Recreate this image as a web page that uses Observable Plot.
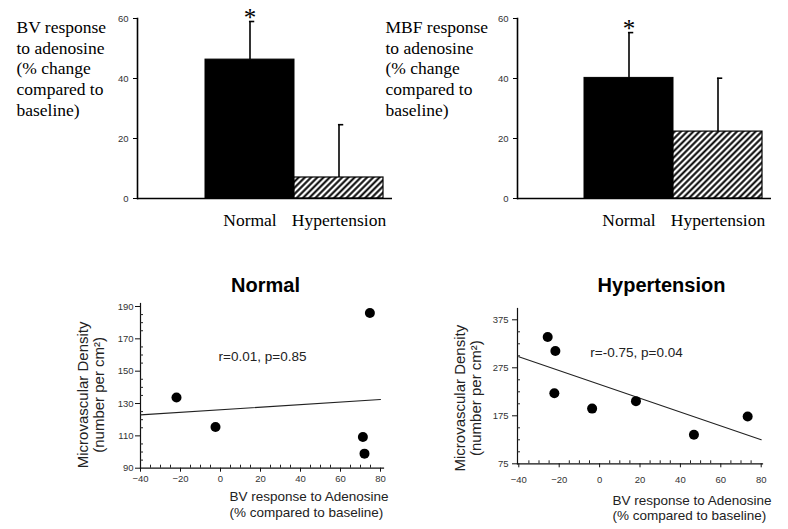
<!DOCTYPE html>
<html><head><meta charset="utf-8">
<script src="https://cdn.jsdelivr.net/npm/d3@7"></script>
<script src="https://cdn.jsdelivr.net/npm/@observablehq/plot@0.6"></script>
<style>
body{margin:0;background:#fff;}
#wrap{position:relative;width:788px;height:529px;overflow:hidden;background:#fff;}
.panel{position:absolute;}
.panel svg{overflow:visible;}
</style></head><body><div id="wrap"></div>
<script>
// ---------- data ----------
const groups = ["Normal", "Hypertension"];
const significant = [true, false];

const bvMean = [46.3, 7.0];
const bvErr = [12.7, 17.6];
const bvLabel = "BV response\nto adenosine\n(% change\ncompared to\nbaseline)";

const mbfMean = [40.2, 22.3];
const mbfErr = [15.1, 17.8];
const mbfLabel = "MBF response\nto adenosine\n(% change\ncompared to\nbaseline)";

const barYTicks = [0, 20, 40, 60];

const scatterXTicks = [-40, -20, 0, 20, 40, 60, 80];
const scatterXLabel = "BV response to Adenosine\n(% compared to baseline)";
const scatterYLabel = "Microvascular Density\n(number per cm²)";

const normalTitle = "Normal";
const normalX = [-22, -2.5, 74.7, 71.2, 72];
const normalY = [133.7, 115.5, 186, 109.3, 99];
const normalFitX = [-40, 80];
const normalFitY = [123, 132.5];
const normalStat = "r=0.01, p=0.85";
const normalYTicks = [90, 110, 130, 150, 170, 190];

const htnTitle = "Hypertension";
const htnX = [-25.7, -21.9, -22.4, -3.7, 18, 46.7, 73.3];
const htnY = [339, 310, 222, 190, 205.5, 135.4, 173.6];
const htnFitX = [-40, 80];
const htnFitY = [298, 125];
const htnStat = "r=-0.75, p=0.04";
const htnYTicks = [75, 175, 275, 375];

// ---------- helpers ----------
const SVGNS = "http://www.w3.org/2000/svg";
function hatchDefs(id) {
  return () => {
    const defs = document.createElementNS(SVGNS, "defs");
    const p = document.createElementNS(SVGNS, "pattern");
    p.setAttribute("id", id);
    p.setAttribute("patternUnits", "userSpaceOnUse");
    p.setAttribute("width", "4.4");
    p.setAttribute("height", "4.4");
    p.setAttribute("patternTransform", "rotate(45)");
    const r = document.createElementNS(SVGNS, "rect");
    r.setAttribute("width", "4.4"); r.setAttribute("height", "4.4"); r.setAttribute("fill", "white");
    const l = document.createElementNS(SVGNS, "line");
    l.setAttribute("x1", "2.2"); l.setAttribute("x2", "2.2");
    l.setAttribute("y1", "-1"); l.setAttribute("y2", "5.4");
    l.setAttribute("stroke", "black"); l.setAttribute("stroke-width", "2");
    p.appendChild(r); p.appendChild(l); defs.appendChild(p);
    return defs;
  };
}

function place(node, left, top) {
  const d = document.createElement("div");
  d.className = "panel";
  d.style.left = left + "px";
  d.style.top = top + "px";
  d.appendChild(node);
  document.getElementById("wrap").appendChild(d);
}

const serif = "'Liberation Serif', 'Times New Roman', serif";
const sans = "'Liberation Sans', Arial, sans-serif";

function barPanel({means, errs, label, width, marginRight, xRange, labelDx, hatchId}) {
  const data = groups.map((g, i) => ({g, m: means[i], e: errs[i], sig: significant[i]}));
  const bw = xRange[1] - xRange[0];
  const band = bw / groups.length;
  return Plot.plot({
    width, height: 240,
    marginLeft: 137, marginRight, marginTop: 18, marginBottom: 42,
    style: {background: "transparent", overflow: "visible", fontFamily: sans},
    x: {type: "band", domain: groups, range: xRange, padding: 0, label: null},
    y: {domain: [0, 60], label: null},
    marks: [
      hatchDefs(hatchId),
      Plot.barY(data.filter(d => d.g === groups[0]), {x: "g", y: "m", fill: "black", stroke: "black", strokeWidth: 1}),
      Plot.barY(data.filter(d => d.g !== groups[0]), {x: "g", y: "m", fill: `url(#${hatchId})`, stroke: "black", strokeWidth: 1.2}),
      Plot.ruleX(data, {x: "g", y1: "m", y2: d => d.m + d.e, stroke: "black", strokeWidth: 1.6}),
      Plot.tickY(data, {x: "g", y: d => d.m + d.e, stroke: "black", strokeWidth: 1.6, insetLeft: band / 2 - 0.8, insetRight: band / 2 - 5}),
      Plot.text(data.filter(d => d.sig), {x: "g", y: d => d.m + d.e, text: () => "*", fontSize: 25, fontFamily: serif, lineAnchor: "middle", dy: -3.5, fill: "black"}),
      Plot.axisY({ticks: barYTicks, tickSize: 4, tickPadding: 5, fontSize: 9.5, fontFamily: sans, fill: "#333", stroke: "black", label: null}),
      Plot.axisX({tickSize: 0, tickPadding: 15, fontSize: 17.5, fontFamily: serif, fill: "black", label: null}),
      Plot.frame({anchor: "left", stroke: "black", strokeWidth: 1.6}),
      Plot.ruleY([0], {stroke: "black", strokeWidth: 1.6}),
      Plot.text([label], {frameAnchor: "top-left", textAnchor: "start", lineAnchor: "top", dx: labelDx, dy: 0,
        fontSize: 17.5, fontFamily: serif, lineHeight: 1.18, fill: "black"})
    ]
  });
}

function scatterPanel({xs, ys, fx, fy, stat, title, yTicks, yDomain, yMinorStep, yRange, marginLeft, marginRight, marginTop, marginBottom, xRange,
                       titleDx, statDx, statDy, xLabDx, xLabDy, yLabDx, yLabDy, xTickPad, yTickPad}) {
  const pts = xs.map((x, i) => ({x, y: ys[i]}));
  const fit = fx.map((x, i) => ({x, y: fy[i]}));
  const width = 394, height = 269;
  const fw = width - marginLeft - marginRight;
  const fh = height - marginTop - marginBottom;
  const xMinor = d3.range(-40, 80.1, 5).filter(v => !scatterXTicks.includes(v));
  const yMinor = d3.range(yDomain[0], yDomain[1] + 0.1, yMinorStep).filter(v => !yTicks.includes(v));
  return Plot.plot({
    width, height, marginLeft, marginRight, marginTop, marginBottom,
    style: {background: "transparent", overflow: "visible", fontFamily: sans},
    x: {domain: [-40, 80], range: xRange, label: null},
    y: {domain: yDomain, range: yRange, label: null},
    marks: [
      Plot.frame({anchor: "left", stroke: "#111", strokeWidth: 1.2}),
      Plot.frame({anchor: "bottom", stroke: "#111", strokeWidth: 1.2}),
      Plot.tickX(xMinor, {x: d => d, insetTop: fh - 3, stroke: "#222"}),
      Plot.tickY(yMinor, {y: d => d, insetRight: fw - 3, stroke: "#222"}),
      Plot.axisX({ticks: scatterXTicks, tickSize: 4, tickPadding: xTickPad, fontSize: 9.5, fontFamily: sans, fill: "#333", stroke: "#111", label: null}),
      Plot.axisY({ticks: yTicks, tickSize: 5, tickPadding: yTickPad, fontSize: 9.5, fontFamily: sans, fill: "#333", stroke: "#111", label: null}),
      Plot.line(fit, {x: "x", y: "y", stroke: "#222", strokeWidth: 1.1}),
      Plot.dot(pts, {x: "x", y: "y", r: 5, fill: "black", stroke: "none"}),
      Plot.text([stat], {frameAnchor: "top-left", textAnchor: "middle", lineAnchor: "top", dx: statDx, dy: statDy, fontSize: 13.5, fontFamily: sans, fill: "#222"}),
      Plot.text([title], {frameAnchor: "top-left", textAnchor: "middle", lineAnchor: "top", dx: titleDx, dy: -(marginTop - 17), fontSize: 20, fontWeight: "bold", fontFamily: sans, fill: "black"}),
      Plot.text([scatterXLabel], {frameAnchor: "bottom-left", textAnchor: "start", lineAnchor: "top", dx: xLabDx, dy: xLabDy, fontSize: 13.5, lineHeight: 1.16, fontFamily: sans, fill: "#222"}),
      Plot.text([scatterYLabel], {frameAnchor: "left", textAnchor: "middle", lineAnchor: "middle", rotate: -90, dx: yLabDx, dy: yLabDy, fontSize: 15, lineHeight: 1.08, fontFamily: sans, fill: "#222"})
    ]
  });
}

// ---------- panels ----------
place(barPanel({means: bvMean, errs: bvErr, label: bvLabel, width: 394, marginRight: 2, xRange: [204, 383], labelDx: 16 - 137, hatchId: "hatchA"}), 0, 0);
place(barPanel({means: mbfMean, errs: mbfErr, label: mbfLabel, width: 408, marginRight: 17, xRange: [203, 382], labelDx: 5 - 137, hatchId: "hatchB"}), 380, 0);

place(scatterPanel({xs: normalX, ys: normalY, fx: normalFitX, fy: normalFitY, stat: normalStat, title: normalTitle,
  yTicks: normalYTicks, yDomain: [90, 190], yMinorStep: 5, yRange: [207.7, 46],
  marginLeft: 140, marginRight: 11, marginTop: 43, marginBottom: 269 - 207.7, xRange: [140, 380],
  titleDx: 265 - 140, statDx: 262 - 140, statDy: 48.4, xLabDx: 229 - 140, xLabDy: 22, yLabDx: -50, yLabDy: 9,
  xTickPad: 3, yTickPad: 2}), 0, 260);

place(scatterPanel({xs: htnX, ys: htnY, fx: htnFitX, fy: htnFitY, stat: htnStat, title: htnTitle,
  yTicks: htnYTicks, yDomain: [75, 375], yMinorStep: 25, yRange: [203.3, 59.3],
  marginLeft: 123, marginRight: 26, marginTop: 48, marginBottom: 269 - 203.3, xRange: [124.3, 366.7],
  titleDx: 267 - 123, statDx: 242 - 123, statDy: 39.4, xLabDx: 218 - 123, xLabDy: 29.8, yLabDx: -50, yLabDy: 12,
  xTickPad: 8, yTickPad: 4}), 394, 260);
</script>
</body></html>
